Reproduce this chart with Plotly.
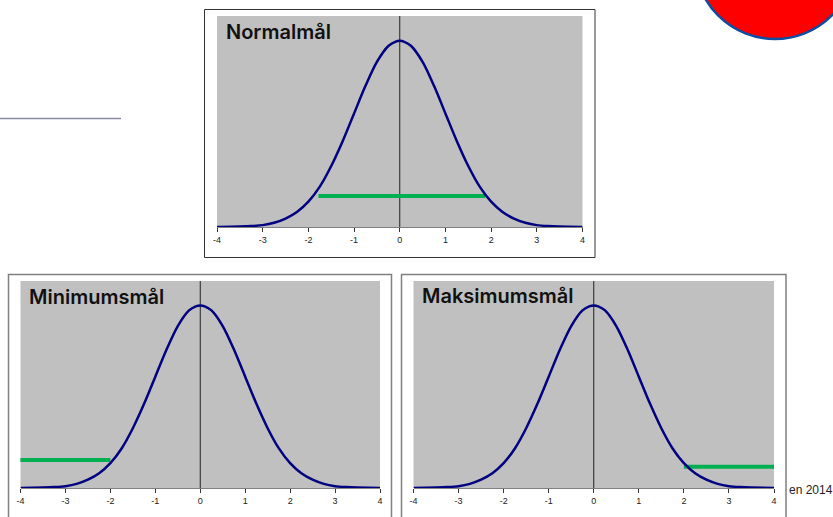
"""
plot.py — three normal curves with target-range bars (Normalmål, Minimumsmål, Maksimumsmål).
"""

import plotly.graph_objects as go

# ── Data ──────────────────────────────────────────────────────────────────────

curve_x = [-4, -3.5, -3.25, -3, -2.75, -2.5, -2.25, -2, -1.75, -1.5, -1.25, -1, -0.75, -0.5, -0.25, -0.1,
           0, 0.1, 0.25, 0.5, 0.75, 1, 1.25, 1.5, 1.75, 2, 2.25, 2.5, 2.75, 3, 3.25, 3.5, 4]
curve_y = [0.000, 0.001, 0.002, 0.004, 0.009, 0.018, 0.032, 0.054, 0.086, 0.130, 0.183, 0.242, 0.301, 0.352, 0.386, 0.395,
           0.397, 0.395, 0.386, 0.352, 0.301, 0.242, 0.183, 0.130, 0.086, 0.054, 0.032, 0.018, 0.009, 0.004, 0.002, 0.001, 0.000]

tick_vals = [-4, -3, -2, -1, 0, 1, 2, 3, 4]

titles = ["Normalmål", "Minimumsmål", "Maksimumsmål"]
target_x = [[-1.78, 1.87], [-4.03, -2.0], [2.0, 4.03]]
target_y = [0.066, 0.061, 0.046]

# ── Page geometry, in pixels ──────────────────────────────────────────────────

W, H = 833, 517
plot_boxes = [(217, 582.5, 16, 227), (20.5, 380, 281, 488), (413.5, 774, 281, 488)]
frame_boxes = [(204.5, 595, 9.5, 257.5), (8.5, 391.5, 274.5, 525), (401.5, 786, 274.5, 525)]
frame_colors = ["#333333", "#808080", "#808080"]
frame_widths = [1, 1.5, 1.5]
title_px = [(224, 32), (27, 297), (420, 296)]

_NAVY = "#000080"
_GREEN = "#00B050"
_PLOT_BG = "#C0C0C0"


def px_x(x):
    return x / W


def px_y(y):
    return 1 - y / H


fig = go.Figure()

for i, (x0, x1, y0, y1) in enumerate(plot_boxes):
    suffix = "" if i == 0 else str(i + 1)
    xa, ya = "x" + suffix, "y" + suffix

    # vertical axis through zero
    fig.add_trace(go.Scatter(x=[0, 0], y=[0, 0.45], mode="lines", xaxis=xa, yaxis=ya,
                             line=dict(color="#222222", width=1), showlegend=False, hoverinfo="skip"))
    fig.add_trace(go.Scatter(x=target_x[i], y=[target_y[i], target_y[i]], mode="lines", xaxis=xa, yaxis=ya,
                             line=dict(color=_GREEN, width=4), showlegend=False, cliponaxis=False))
    fig.add_trace(go.Scatter(x=curve_x, y=curve_y, mode="lines", xaxis=xa, yaxis=ya,
                             line=dict(color=_NAVY, width=2.5, shape="spline", smoothing=0.8),
                             showlegend=False, cliponaxis=False))

    fig.update_layout({
        "xaxis" + suffix: dict(
            domain=[px_x(x0), px_x(x1)], range=[-4, 4], anchor=ya,
            tickmode="array", tickvals=tick_vals, ticktext=[str(t) for t in tick_vals],
            ticks="outside", ticklen=4, tickwidth=1, tickcolor="#333333",
            showgrid=False, zeroline=False, showline=True, linecolor="#808080", linewidth=1,
            tickfont=dict(family="Liberation Sans", size=9, color="#222222"),
        ),
        "yaxis" + suffix: dict(
            domain=[px_y(y1), px_y(y0)], range=[0, 0.45], anchor=xa,
            visible=False, showgrid=False, zeroline=False,
        ),
    })

    fig.add_shape(type="rect", xref="paper", yref="paper", layer="below",
                  x0=px_x(frame_boxes[i][0]), x1=px_x(frame_boxes[i][1]),
                  y0=px_y(frame_boxes[i][2]), y1=px_y(frame_boxes[i][3]),
                  line=dict(color=frame_colors[i], width=frame_widths[i]), fillcolor="rgba(0,0,0,0)")
    fig.add_annotation(text=titles[i], xref="paper", yref="paper",
                       x=px_x(title_px[i][0]), y=px_y(title_px[i][1]),
                       xanchor="left", yanchor="middle", showarrow=False,
                       font=dict(family="Inter", size=20, color="#111111", weight=600))

# ── Page decorations ──────────────────────────────────────────────────────────

# red circle cut off by the top edge
fig.add_shape(type="circle", xref="paper", yref="paper",
              x0=px_x(694.5), x1=px_x(855.5), y0=px_y(-122), y1=px_y(39),
              line=dict(color="#0B4EA2", width=2.5), fillcolor="#FF0000")
# rule at the left edge
fig.add_shape(type="line", xref="paper", yref="paper",
              x0=0, x1=px_x(121), y0=px_y(118.5), y1=px_y(118.5),
              line=dict(color="#8A8AA6", width=1.3))
fig.add_annotation(text="en 2014", xref="paper", yref="paper",
                   x=px_x(787), y=px_y(490), xanchor="left", yanchor="middle", showarrow=False,
                   font=dict(family="Liberation Sans", size=12, color="#222222"))

fig.update_layout(
    width=W, height=H,
    margin=dict(l=0, r=0, t=0, b=0, autoexpand=False),
    paper_bgcolor="white",
    plot_bgcolor=_PLOT_BG,
    showlegend=False,
)

fig.write_html("out.html", config=dict(displayModeBar=False),
               post_script="document.body.style.margin='0';")
